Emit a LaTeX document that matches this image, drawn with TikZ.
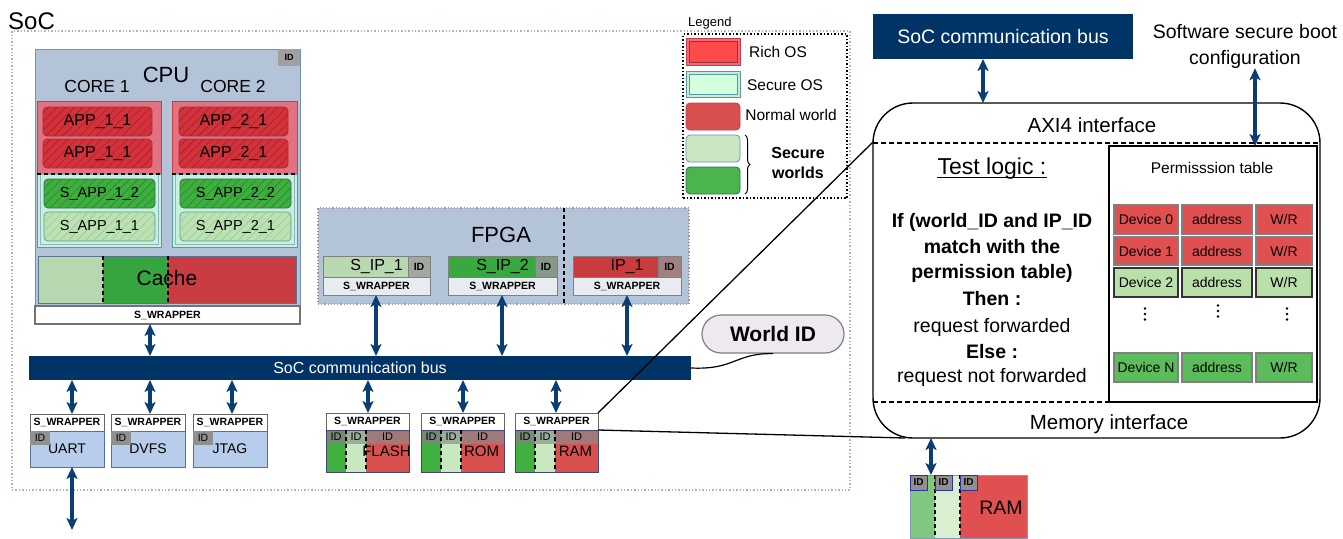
\documentclass[tikz,border=0pt]{standalone}
\usepackage{fontspec}
\setmainfont{Liberation Sans}
\usetikzlibrary{arrows.meta,patterns.meta,decorations.pathreplacing,calc}
\definecolor{cpufill}{HTML}{B4C4D8}
\definecolor{cpudraw}{HTML}{7090B4}
\definecolor{idgray}{HTML}{A0A0A0}
\definecolor{richfill}{HTML}{E8707E}
\definecolor{richdraw}{HTML}{C0404E}
\definecolor{appred}{HTML}{D4323A}
\definecolor{apphatch}{HTML}{A81E26}
\definecolor{appdraw}{HTML}{9A3444}
\definecolor{secfill}{HTML}{C8F0DC}
\definecolor{secdraw}{HTML}{5A98A8}
\definecolor{sappg}{HTML}{3EAF3E}
\definecolor{sappghatch}{HTML}{2A862A}
\definecolor{sappgdraw}{HTML}{2E6E58}
\definecolor{sappl}{HTML}{BCE2B4}
\definecolor{sapplhatch}{HTML}{98CA90}
\definecolor{sappldraw}{HTML}{5A9A90}
\definecolor{cachel}{HTML}{B7D7B0}
\definecolor{cacheg}{HTML}{37A53F}
\definecolor{cacher}{HTML}{C83C42}
\definecolor{busblue}{HTML}{003366}
\definecolor{arrowblue}{HTML}{0A3D73}
\definecolor{socdot}{HTML}{A4B6CE}
\definecolor{sipl}{HTML}{B8D8B0}
\definecolor{sipg}{HTML}{38A840}
\definecolor{ipr}{HTML}{C83C40}
\definecolor{sipidl}{HTML}{A0A8A0}
\definecolor{sipidg}{HTML}{889888}
\definecolor{ipidr}{HTML}{A08080}
\definecolor{fwrapfill}{HTML}{E8ECF0}
\definecolor{perfill}{HTML}{B8CCEC}
\definecolor{perdraw}{HTML}{5070A0}
\definecolor{peridg}{HTML}{909090}
\definecolor{memg}{HTML}{40B040}
\definecolor{meml}{HTML}{C8E8C0}
\definecolor{memr}{HTML}{D85050}
\definecolor{memidg}{HTML}{748A74}
\definecolor{memidl}{HTML}{9AAC9A}
\definecolor{memidr}{HTML}{A07A7A}
\definecolor{memdraw}{HTML}{404870}
\definecolor{tabred}{HTML}{E05050}
\definecolor{tablight}{HTML}{B8E0A8}
\definecolor{tabgreen}{HTML}{5CBC5C}
\definecolor{ramg}{HTML}{80C880}
\definecolor{raml}{HTML}{D8F0D0}
\definecolor{ramr}{HTML}{E05050}
\definecolor{ramiddraw}{HTML}{3030A0}
\definecolor{widfill}{HTML}{EEE8F0}
\definecolor{legrich}{HTML}{F06A78}
\definecolor{legrichin}{HTML}{FF4A4A}
\definecolor{legsec}{HTML}{C8ECD8}
\definecolor{legsecin}{HTML}{D4FFDC}
\definecolor{legnorm}{HTML}{D85050}
\definecolor{legsl}{HTML}{CCE6C4}
\definecolor{legsg}{HTML}{4CB44C}

\newcommand\fs[2]{\fontsize{#1}{#2}\selectfont}
\newcommand\rbox[7]{\node[inner sep=0pt, outer sep=0pt, anchor=north west, minimum width={(#4-#2)*1pt}, minimum height={(#5-#3)*1pt}, #6] (#1) at (#2,#3) {#7};}
\newcommand\mem[3]{%
  \pgfmathsetmacro\mxa{#2}\pgfmathsetmacro\mxb{#2+20}\pgfmathsetmacro\mxc{#2+40}\pgfmathsetmacro\mxd{#2+83}%
  \rbox{#1w}{\mxa}{413}{\mxd}{430}{pwrap}{S\_WRAPPER}
  \rbox{#1ia}{\mxa}{430}{\mxb}{444}{fill=memidg, midtxt}{ID}
  \rbox{#1ib}{\mxb}{430}{\mxc}{444}{fill=memidl, midtxt}{ID}
  \rbox{#1ic}{\mxc}{430}{\mxd}{444}{fill=memidr, midtxt}{ID}
  \rbox{#1a}{\mxa}{444}{\mxb}{472}{fill=memg}{}
  \rbox{#1b}{\mxb}{444}{\mxc}{472}{fill=meml}{}
  \rbox{#1c}{\mxc}{444}{\mxd}{472}{fill=memr}{}
  \draw[draw=memdraw, line width=0.8pt] (#1ia.north west) rectangle (#1c.south east);
  \draw[blackdash] (#1ib.north west) -- (#1b.south west);
  \draw[blackdash] (#1ic.north west) -- (#1c.south west);
  \node[anchor=base, font=\fs{15}{17}, inner sep=0pt] (#1lbl) at ($(#1c.north)+(-1,12.5)$) {#3};
}

\tikzset{
  blackdash/.style={draw=black, line width=1.2pt, dash pattern=on 4pt off 3pt},
  bdash/.style={draw=black, line width=1.1pt, dash pattern=on 5pt off 3pt},
  barrow/.style={draw=arrowblue, line width=3.2pt, {Stealth[length=12pt,width=11pt,inset=3pt]}-{Stealth[length=12pt,width=11pt,inset=3pt]}},
  wraptxt/.style={font=\bfseries\fs{10.5}{12}},
  midtxt/.style={font=\fs{11}{12}},
  cwrap/.style={fill=white, draw=gray!90!black, line width=1.2pt, wraptxt},
  fwrap/.style={fill=fwrapfill, draw=gray, line width=0.6pt, wraptxt},
  pwrap/.style={fill=white, draw=gray!80!black, line width=1pt, wraptxt},
  hatchbase/.style={rounded corners=4pt, line width=0.7pt},
  hred/.style={hatchbase, draw=appdraw, fill=appred, postaction={pattern={Lines[angle=45,distance=6pt,line width=0.6pt]}, pattern color=apphatch}, font=\fs{16}{18}},
  hgreen/.style={hatchbase, draw=sappgdraw, fill=sappg, postaction={pattern={Lines[angle=45,distance=6pt,line width=0.6pt]}, pattern color=sappghatch}, font=\fs{14.5}{16}},
  hlight/.style={hatchbase, draw=sappldraw, fill=sappl, postaction={pattern={Lines[angle=45,distance=6pt,line width=0.6pt]}, pattern color=sapplhatch}, font=\fs{14.5}{16}},
  richbox/.style={fill=richfill, draw=richdraw, line width=0.8pt},
  secbox/.style={fill=secfill, draw=secdraw, line width=0.8pt},
  perbody/.style={fill=perfill, draw=perdraw, line width=0.9pt, font=\fs{14}{16}},
  peridtag/.style={fill=peridg, font=\fs{10.5}{12}},
  tcell/.style={font=\fs{14}{16}, line width=1.2pt},
  tabR/.style={tcell, fill=tabred, draw=gray},
  tabL/.style={tcell, fill=tablight, draw=black!80},
  tabG/.style={tcell, fill=tabgreen, draw=gray},
  txt/.style={inner sep=0pt, anchor=base},
}

\begin{document}
\begin{tikzpicture}[x=1pt,y=-1pt]
\useasboundingbox (0,0) rectangle (1343,538);

% ---------- SoC ----------
\rbox{soc}{12}{31}{850}{490}{draw=socdot, dotted, line width=1.4pt}{}
\node[txt, anchor=base west, font=\fs{24}{28}] (soclbl) at (8,29) {SoC};

% ---------- CPU ----------
\rbox{cpu}{35}{49}{300}{306}{fill=cpufill, draw=cpudraw, line width=0.8pt}{}
\rbox{cpuid}{278}{49}{300}{66}{fill=idgray, font=\bfseries\fs{9}{10}}{ID}
\node[txt, font=\fs{22}{24}] (cpulbl) at (166,82) {CPU};
\node[txt, font=\fs{17.5}{20}] (core1) at (97,92) {CORE 1};
\node[txt, font=\fs{17.5}{20}] (core2) at (233,92) {CORE 2};

\rbox{rich1}{37}{101}{161}{174}{richbox}{}
\draw[richdraw!70, line width=0.6pt] ($(rich1.north west)+(3,3)$) rectangle ($(rich1.south east)+(-3,0)$);
\rbox{app11a}{43}{107}{152}{136}{hred}{APP\_1\_1}
\rbox{app11b}{43}{139}{152}{168}{hred}{APP\_1\_1}
\rbox{sec1}{37}{174}{161}{247}{secbox}{}
\draw[secdraw!70, line width=0.6pt] ($(sec1.north west)+(3,0)$) rectangle ($(sec1.south east)+(-3,-3)$);
\rbox{sapp12}{44}{179}{155}{208}{hgreen}{S\_APP\_1\_2}
\rbox{sapp11}{44}{212}{155}{241}{hlight}{S\_APP\_1\_1}
\draw[blackdash] (rich1.south west) -- (rich1.south east);

\rbox{rich2}{172}{101}{297}{174}{richbox}{}
\draw[richdraw!70, line width=0.6pt] ($(rich2.north west)+(3,3)$) rectangle ($(rich2.south east)+(-3,0)$);
\rbox{app21a}{179}{107}{288}{136}{hred}{APP\_2\_1}
\rbox{app21b}{179}{139}{288}{168}{hred}{APP\_2\_1}
\rbox{sec2}{172}{174}{297}{247}{secbox}{}
\draw[secdraw!70, line width=0.6pt] ($(sec2.north west)+(3,0)$) rectangle ($(sec2.south east)+(-3,-3)$);
\rbox{sapp22}{180}{179}{291}{208}{hgreen}{S\_APP\_2\_2}
\rbox{sapp21}{180}{212}{291}{241}{hlight}{S\_APP\_2\_1}
\draw[blackdash] (rich2.south west) -- (rich2.south east);

\rbox{cacheA}{38}{256}{103}{303}{fill=cachel}{}
\rbox{cacheB}{103}{256}{168}{303}{fill=cacheg}{}
\rbox{cacheC}{168}{256}{296}{303}{fill=cacher}{}
\draw[draw=cpudraw!80!black, line width=0.8pt] (cacheA.north west) rectangle (cacheC.south east);
\draw[blackdash] (cacheB.north west) -- (cacheB.south west);
\draw[blackdash] (cacheC.north west) -- (cacheC.south west);
\node[txt, font=\fs{21}{24}] (cachelbl) at (167,285) {Cache};
\rbox{cpuwrap}{35}{306}{300}{324}{cwrap}{S\_WRAPPER}

% ---------- bus ----------
\rbox{bus}{29}{356}{691}{380}{fill=busblue, text=white, font=\fs{16}{18}}{SoC communication bus}
\draw[barrow] (150,0 |- cpuwrap.south) -- (150,0 |- bus.north);

% ---------- FPGA ----------
\rbox{fpga}{318}{208}{689}{304}{fill=cpufill, draw=gray!80, dotted, line width=1.2pt}{}
\node[txt, font=\fs{22}{24}] (fpgalbl) at (501,242) {FPGA};
\draw[blackdash, line width=1.5pt] (564,0 |- fpga.north) -- (564,0 |- fpga.south);

\rbox{sip1}{323}{256}{430}{277}{fill=sipl, draw=gray, line width=0.6pt, font=\fs{16}{18}}{S\_IP\_1}
\rbox{sip1id}{408}{256}{430}{277}{fill=sipidl, draw=gray, line width=0.6pt, font=\bfseries\fs{10.5}{12}}{ID}
\rbox{sip1w}{323}{277}{430}{295}{fwrap}{S\_WRAPPER}
\rbox{sip2}{448}{256}{557}{277}{fill=sipg, draw=gray, line width=0.6pt, font=\fs{16}{18}}{S\_IP\_2}
\rbox{sip2id}{535}{256}{557}{277}{fill=sipidg, draw=gray, line width=0.6pt, font=\bfseries\fs{10.5}{12}}{ID}
\rbox{sip2w}{448}{277}{557}{295}{fwrap}{S\_WRAPPER}
\rbox{ip1}{573}{256}{681}{277}{fill=ipr, draw=gray, line width=0.6pt, font=\fs{16}{18}}{IP\_1}
\rbox{ip1id}{658}{256}{681}{277}{fill=ipidr, draw=gray, line width=0.6pt, font=\bfseries\fs{10.5}{12}}{ID}
\rbox{ip1w}{573}{277}{681}{295}{fwrap}{S\_WRAPPER}
\draw[barrow] (376,0 |- sip1w.south) -- (376,0 |- bus.north);
\draw[barrow] (502,0 |- sip2w.south) -- (502,0 |- bus.north);
\draw[barrow] (627,0 |- ip1w.south) -- (627,0 |- bus.north);

% ---------- peripherals ----------
\rbox{uartw}{30}{414}{104}{431}{pwrap}{S\_WRAPPER}
\rbox{uart}{30}{431}{104}{467}{perbody}{UART}
\rbox{uartid}{30}{431}{50}{445}{peridtag}{ID}
\rbox{dvfsw}{111}{414}{185}{431}{pwrap}{S\_WRAPPER}
\rbox{dvfs}{111}{431}{185}{467}{perbody}{DVFS}
\rbox{dvfsid}{111}{431}{131}{445}{peridtag}{ID}
\rbox{jtagw}{193}{414}{267}{431}{pwrap}{S\_WRAPPER}
\rbox{jtag}{193}{431}{267}{467}{perbody}{JTAG}
\rbox{jtagid}{193}{431}{213}{445}{peridtag}{ID}
\draw[barrow] (72,0 |- bus.south) -- (72,0 |- uartw.north);
\draw[barrow] (150,0 |- bus.south) -- (150,0 |- dvfsw.north);
\draw[barrow] (232,0 |- bus.south) -- (232,0 |- jtagw.north);
\coordinate (uartout) at (72,530);
\draw[barrow] (72,0 |- uart.south) -- (uartout);

% ---------- memories ----------
\mem{flash}{326}{FLASH}
\mem{rom}{421}{ROM}
\mem{ram}{515}{RAM}
\draw[barrow] (368,0 |- bus.south) -- (368,0 |- flashw.north);
\draw[barrow] (463,0 |- bus.south) -- (463,0 |- romw.north);
\draw[barrow] (556,0 |- bus.south) -- (556,0 |- ramw.north);

% ---------- World ID ----------
\node[fill=widfill, draw=gray, line width=1.2pt, rounded corners=19pt, minimum width=142pt, minimum height=38pt, inner sep=0pt, font=\bfseries\fs{21}{24}] (wid) at (773,334) {World ID};
\draw[line width=1.2pt] (bus.east) .. controls (735,370) and (735,353) .. (wid.south);

% ---------- Legend ----------
\node[txt, anchor=base west, font=\fs{13}{15}] (leglbl) at (688,27) {Legend};
\rbox{legbox}{683}{34}{847}{198}{draw=black, dotted, line width=1.5pt}{}
\rbox{lrich}{686}{38}{740}{65}{fill=legrich, draw=richdraw, line width=0.8pt}{}
\draw[fill=legrichin, draw=richdraw!80!black, line width=0.7pt] ($(lrich.north west)+(3,3)$) rectangle ($(lrich.south east)+(-3,-3)$);
\node[txt, font=\fs{15.5}{18}] (lrichtxt) at (778,57) {Rich OS};
\rbox{lsec}{686}{71}{740}{97}{fill=legsec, draw=secdraw, line width=0.8pt}{}
\draw[fill=legsecin, draw=secdraw, line width=0.7pt] ($(lsec.north west)+(3,3)$) rectangle ($(lsec.south east)+(-3,-3)$);
\node[txt, font=\fs{15.5}{18}] (lsectxt) at (785,90) {Secure OS};
\rbox{lnorm}{686}{103}{740}{130}{fill=legnorm, draw=richdraw, line width=0.8pt, rounded corners=4pt}{}
\node[txt, font=\fs{15.5}{18}] (lnormtxt) at (791,120) {Normal world};
\rbox{lsl}{686}{135}{740}{162}{fill=legsl, draw=secdraw, line width=0.8pt, rounded corners=4pt}{}
\rbox{lsg}{686}{167}{740}{194}{fill=legsg, draw=sappgdraw, line width=0.8pt, rounded corners=4pt}{}
\draw[line width=1pt, decorate, decoration={brace, amplitude=5pt}] (745,135) -- (745,194);
\node[txt, font=\bfseries\fs{16}{18}] (lsw1) at (798,158) {Secure};
\node[txt, font=\bfseries\fs{16}{18}] (lsw2) at (798,178) {worlds};

% ---------- right panel ----------
\rbox{topbus}{873}{14}{1133}{59}{fill=busblue, text=white, font=\fs{19.5}{22}}{SoC communication bus}
\node[txt, font=\fs{19.5}{22}] (sw1) at (1245,38) {Software secure boot};
\node[txt, font=\fs{19.5}{22}] (sw2) at (1245,64) {configuration};

\rbox{big}{873}{103}{1320}{438}{draw=black, line width=1.4pt, rounded corners=40pt}{}
\draw[bdash] (big.west |- 0,143) -- (big.east |- 0,143);
\draw[bdash] (big.west |- 0,402) -- (big.east |- 0,402);
\node[txt, font=\fs{20.5}{24}] (axi) at (1092,132) {AXI4 interface};
\node[txt, font=\fs{20.5}{24}] (memif) at (1109,429) {Memory interface};

\rbox{ptab}{1109}{146}{1317}{402}{draw=black, line width=1.2pt}{}
\node[txt, font=\fs{15.5}{18}] (ptablbl) at (1212,173) {Permisssion table};
\rbox{c00}{1114}{205}{1178}{234}{tabR}{Device 0}
\rbox{c01}{1182}{205}{1252}{234}{tabR}{address}
\rbox{c02}{1256}{205}{1312}{234}{tabR}{W/R}
\rbox{c10}{1114}{237}{1178}{265}{tabR}{Device 1}
\rbox{c11}{1182}{237}{1252}{265}{tabR}{address}
\rbox{c12}{1256}{237}{1312}{265}{tabR}{W/R}
\rbox{c20}{1114}{268}{1178}{297}{tabL}{Device 2}
\rbox{c21}{1182}{268}{1252}{297}{tabL}{address}
\rbox{c22}{1256}{268}{1312}{297}{tabL}{W/R}
\rbox{cn0}{1114}{353}{1178}{382}{tabG}{Device N}
\rbox{cn1}{1182}{353}{1252}{382}{tabG}{address}
\rbox{cn2}{1256}{353}{1312}{382}{tabG}{W/R}
% vertical ellipsis dots
\foreach \vx/\vy in {1145/314, 1218/311, 1287/314}{
  \fill (\vx,\vy-5.5) circle (1.3pt);
  \fill (\vx,\vy) circle (1.3pt);
  \fill (\vx,\vy+5.5) circle (1.3pt);
}

\node[txt, font=\fs{23}{26}] (testlbl) at (992,174) {Test logic :};
\draw[line width=1.2pt] ([yshift=-3.5pt]testlbl.base west) -- ([yshift=-3.5pt]testlbl.base east);
\node[txt, font=\bfseries\fs{19.5}{22}] (tl1) at (992,227) {If (world\_ID and IP\_ID};
\node[txt, font=\bfseries\fs{19.5}{22}] (tl2) at (992,253) {match with the};
\node[txt, font=\bfseries\fs{19.5}{22}] (tl3) at (992,278) {permission table)};
\node[txt, font=\bfseries\fs{19.5}{22}] (tl4) at (992,305) {Then :};
\node[txt, font=\fs{19.5}{22}] (tl5) at (992,332) {request forwarded};
\node[txt, font=\bfseries\fs{19.5}{22}] (tl6) at (992,358) {Else :};
\node[txt, font=\fs{19.5}{22}] (tl7) at (992,382) {request not forwarded};

\draw[barrow] (983,0 |- topbus.south) -- (983,0 |- big.north);
\draw[barrow] (1255,0 |- sw2.south) -- (1255,0 |- ptab.north);

% ---------- external RAM ----------
\rbox{ramb1}{910}{475}{935}{538}{fill=ramg}{}
\rbox{ramb2}{935}{475}{960}{538}{fill=raml}{}
\rbox{ramb3}{960}{475}{1027}{538}{fill=ramr}{}
\draw[draw=perdraw!70, line width=0.8pt] (ramb1.north west) rectangle (ramb3.south east);
\draw[blackdash] (ramb2.north west) -- (ramb2.south west);
\draw[blackdash] (ramb3.north west) -- (ramb3.south west);
\rbox{rid1}{910}{475}{927}{490}{fill=peridg, draw=ramiddraw, line width=1pt, font=\bfseries\fs{10}{11}}{ID}
\rbox{rid2}{935}{475}{952}{490}{fill=peridg, draw=ramiddraw, line width=1pt, font=\bfseries\fs{10}{11}}{ID}
\rbox{rid3}{960}{475}{977}{490}{fill=peridg, draw=ramiddraw, line width=1pt, font=\bfseries\fs{10}{11}}{ID}
\node[txt, font=\fs{19.5}{22}] (ramblbl) at (1001,514) {RAM};
\draw[barrow] (931,0 |- big.south) -- (931,0 |- ramb1.north);

% ---------- zoom lines ----------
\coordinate (axil) at (873,142);
\coordinate (membl) at (905,438);
\draw[line width=1.3pt] (ramw.north east) -- (axil);
\draw[line width=1.3pt] (ramw.south east) -- (membl);
\end{tikzpicture}
\end{document}
